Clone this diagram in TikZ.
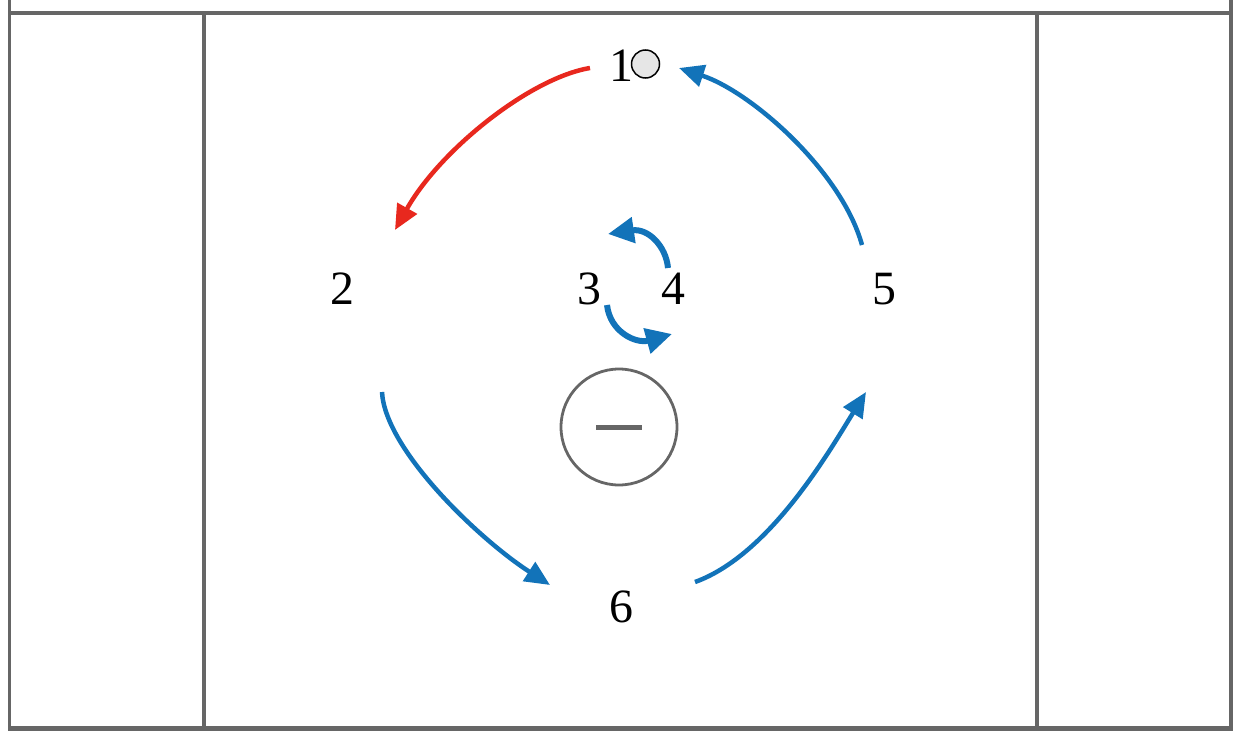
\documentclass[tikz,border=0pt]{standalone}
\usepackage{fontspec}
\setmainfont{Liberation Serif}
\usetikzlibrary{arrows.meta}
\definecolor{fieldgray}{HTML}{666666}
\definecolor{passred}{HTML}{E8281E}
\definecolor{runblue}{HTML}{1273B9}
\definecolor{ballgray}{HTML}{E6E6E6}
\begin{document}
\begin{tikzpicture}[x=1bp,y=-1bp,
  fieldline/.style={draw=fieldgray,line width=3.3bp},
  player/.style={inner sep=0pt,font=\fontsize{48}{52}\selectfont},
  passarrow/.style={draw=passred,line width=4.5bp,-{Triangle[length=25bp,width=22bp]}},
  runarrow/.style={draw=runblue,line width=4.5bp,-{Triangle[length=25bp,width=22bp]}},
  swaparrow/.style={draw=runblue,line width=6bp,-{Triangle[length=26bp,width=25bp]}},
  ballstyle/.style={circle,draw=black,line width=1.5bp,fill=ballgray,minimum size=28bp,inner sep=0pt},
  defstyle/.style={circle,draw=fieldgray,line width=2.8bp,minimum size=116bp,inner sep=0pt}]
\useasboundingbox (0,0) rectangle (1244,740);
% field lines
\draw[fieldline] (9.5,0) -- (9.5,728);
\draw[fieldline] (1231,0) -- (1231,728);
\draw[fieldline] (9.5,13) -- (1231,13);
\draw[fieldline] (204,13) -- (204,728);
\draw[fieldline] (1037,13) -- (1037,728);
\draw[draw=fieldgray,line width=4.3bp] (8,728.5) -- (1232.5,728.5);
% players
\node[player] (n1) at (621,66) {1};
\node[ballstyle] (ball) at (645.5,64) {};
\node[player] (n2) at (342,289) {2};
\node[player] (n3) at (589,289) {3};
\node[player] (n4) at (673,289) {4};
\node[player] (n5) at (884,289) {5};
\node[player] (n6) at (621,607) {6};
\node[defstyle] (def) at (619,427) {};
\draw[draw=fieldgray,line width=5bp] ([xshift=-23bp]def.center) -- ([xshift=23bp]def.center);
% arrow end points
\coordinate (a1s) at (590,68);
\coordinate (a1e) at (395,230);
\coordinate (b1s) at (862,245);
\coordinate (b1e) at (679,68);
\coordinate (b2s) at (382,392);
\coordinate (b2e) at (550,585);
\coordinate (b3s) at (695,582);
\coordinate (b3e) at (866,392);
\coordinate (c1s) at (668,268);
\coordinate (c1e) at (608,234);
\coordinate (c2s) at (607,305);
\coordinate (c2e) at (672,334);
% arrows
\draw[passarrow] (a1s) .. controls (530,78) and (440,150) .. (a1e);
\draw[runarrow] (b1s) .. controls (842,172) and (752,92) .. (b1e);
\draw[runarrow] (b2s) .. controls (385,450) and (480,540) .. (b2e);
\draw[runarrow] (b3s) .. controls (770,555) and (830,450) .. (b3e);
\draw[swaparrow] (c1s) .. controls (666,246) and (648,228) .. (c1e);
\draw[swaparrow] (c2s) .. controls (610,332) and (636,344) .. (c2e);
\end{tikzpicture}
\end{document}
